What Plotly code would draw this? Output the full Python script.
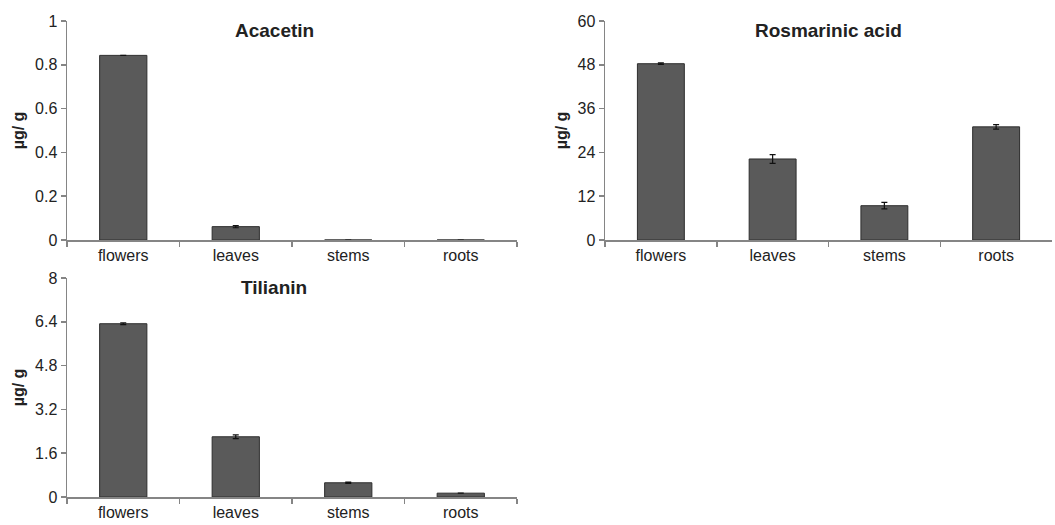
import plotly.graph_objects as go

categories = ["flowers", "leaves", "stems", "roots"]

acacetin = [0.843, 0.061, 0.0, 0.0]
acacetin_err = [0.0, 0.005, 0.0, 0.0]

rosmarinic = [48.3, 22.2, 9.4, 31.0]
rosmarinic_err = [0.2, 1.2, 0.9, 0.6]

tilianin = [6.33, 2.2, 0.52, 0.14]
tilianin_err = [0.03, 0.07, 0.02, 0.0]

titles = ["Acacetin", "Rosmarinic acid", "Tilianin"]
y_ranges = [[0, 1], [0, 60], [0, 8]]
y_dticks = [0.2, 12, 1.6]

W, H = 1055, 525
# pixel boxes: (x0, x1, ytop, ybottom)
boxes = [(67, 517, 21, 240), (605, 1052, 21, 240), (67, 517, 278, 497)]

BAR = "#5a5a5a"
EDGE = "#2e2e2e"
AXIS = "#858585"
TXT = "#222222"
FONT = "Liberation Sans"

fig = go.Figure()
series = [(acacetin, acacetin_err), (rosmarinic, rosmarinic_err), (tilianin, tilianin_err)]

for i, ((vals, errs), box) in enumerate(zip(series, boxes)):
    n = "" if i == 0 else str(i + 1)
    fig.add_trace(go.Bar(
        x=categories, y=vals,
        error_y=dict(type="data", array=errs, visible=True, color="#111111", thickness=1.2, width=3),
        marker=dict(color=BAR, line=dict(color=EDGE, width=1)),
        width=0.42,
        xaxis="x" + n, yaxis="y" + n, showlegend=False,
    ))
    x0, x1, yt, yb = box
    fig.layout["xaxis" + n] = dict(
        domain=[x0 / W, x1 / W], anchor="y" + n,
        type="category", range=[-0.5, 3.5],
        showline=True, linecolor=AXIS, linewidth=1.5,
        ticks="outside", tickson="boundaries", ticklen=5, tickcolor=AXIS, tickwidth=1.5,
        showgrid=False, zeroline=False, automargin=False,
        tickfont=dict(family=FONT, size=16, color=TXT),
        fixedrange=True,
    )
    fig.layout["yaxis" + n] = dict(
        domain=[1 - yb / H, 1 - yt / H], anchor="x" + n,
        range=y_ranges[i], dtick=y_dticks[i], tick0=0,
        showline=True, linecolor=AXIS, linewidth=1.5,
        ticks="outside", ticklen=5, tickcolor=AXIS, tickwidth=1.5,
        showgrid=False, zeroline=False, automargin=False,
        tickfont=dict(family=FONT, size=16, color=TXT),
        title=dict(text="<b>µg/ g</b>", font=dict(family=FONT, size=16, color=TXT), standoff=6),
        fixedrange=True,
    )
    fig.add_annotation(
        text="<b>" + titles[i] + "</b>",
        xref="paper", yref="paper",
        x=((x0 + x1) / 2 - 18 if i != 1 else (x0 + x1) / 2) / W,
        y=1 - (yt + 9) / H,
        showarrow=False, xanchor="center", yanchor="middle",
        font=dict(family=FONT, size=19, color=TXT),
    )

fig.update_layout(
    width=W, height=H,
    margin=dict(l=0, r=0, t=0, b=0),
    paper_bgcolor="white", plot_bgcolor="white",
    font=dict(family=FONT, color=TXT),
)

fig.write_html(
    "out.html",
    config={"displayModeBar": False, "staticPlot": True},
    post_script="document.body.style.margin='0';document.body.style.overflow='hidden';",
)
